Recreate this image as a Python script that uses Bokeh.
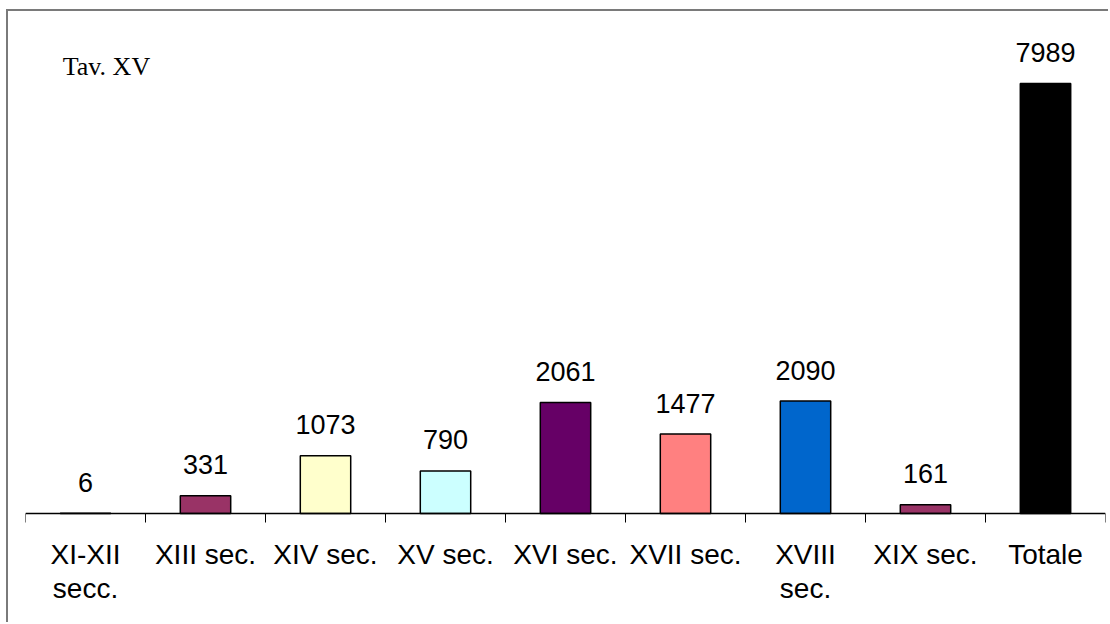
from bokeh.plotting import figure
from bokeh.models import Range1d, FixedTicker, ColumnDataSource, Label
from bokeh.core.properties import value
from bokeh.embed import file_html
from bokeh.resources import INLINE

categories = ["XI-XII\nsecc.", "XIII sec.", "XIV sec.", "XV sec.", "XVI sec.",
              "XVII sec.", "XVIII\nsec.", "XIX sec.", "Totale"]
values = [6, 331, 1073, 790, 2061, 1477, 2090, 161, 7989]
colors = ["#9999FF", "#993366", "#FFFFCC", "#CCFFFF", "#660066",
          "#FF8080", "#0066CC", "#993366", "#000000"]
labels = [str(v) for v in values]

n = len(categories)
xs = [i + 0.5 for i in range(n)]

# layout constants (pixels)
W, H = 1102, 613
baseline_px = 502
frame_h = H
px_per_unit = 430 / 7989.0
y_end = baseline_px / px_per_unit
y_start = -(frame_h - baseline_px) / px_per_unit

p = figure(width=W, height=H, output_backend="svg", toolbar_location=None,
           x_range=Range1d(0, n), y_range=Range1d(y_start, y_end),
           min_border_left=17, min_border_right=5, min_border_top=0, min_border_bottom=0,
           y_axis_location=None)
p.styles = {"border-left": "2px solid #7a7a7a", "border-top": "2px solid #7a7a7a",
            "margin-left": "6px", "margin-top": "9px"}
p.background_fill_color = "white"
p.border_fill_color = "white"
p.outline_line_color = None
p.grid.visible = False

src = ColumnDataSource(dict(x=xs, top=values, color=colors, label=labels))
p.vbar(x="x", top="top", bottom=0, width=0.42, fill_color="color",
       line_color="black", line_width=1.5, source=src)
p.text(x="x", y="top", text="label", source=src, text_align="center",
       text_baseline="alphabetic", y_offset=-31, text_font=value("Liberation Sans"),
       text_font_size="27px", text_color="black")

ax = p.xaxis[0]
ax.fixed_location = 0
ax.ticker = FixedTicker(ticks=xs, minor_ticks=list(range(n + 1)))
ax.major_label_overrides = {x: c for x, c in zip(xs, categories)}
ax.axis_line_color = "black"
ax.axis_line_width = 1.5
ax.major_tick_out = 0
ax.major_tick_in = 0
ax.minor_tick_out = 9
ax.minor_tick_in = 0
ax.minor_tick_line_color = "black"
ax.minor_tick_line_width = 1
ax.major_label_standoff = 16
ax.major_label_text_font = "Liberation Sans"
ax.major_label_text_font_size = "28px"
ax.major_label_text_color = "black"
ax.major_label_text_line_height = 1.1

p.add_layout(Label(x=0.31, y=(baseline_px - 55) / px_per_unit, text="Tav. XV",
                   text_font="Liberation Serif", text_font_size="26px",
                   text_color="black", text_baseline="alphabetic"))

open("out.html", "w").write(file_html(p, INLINE))
